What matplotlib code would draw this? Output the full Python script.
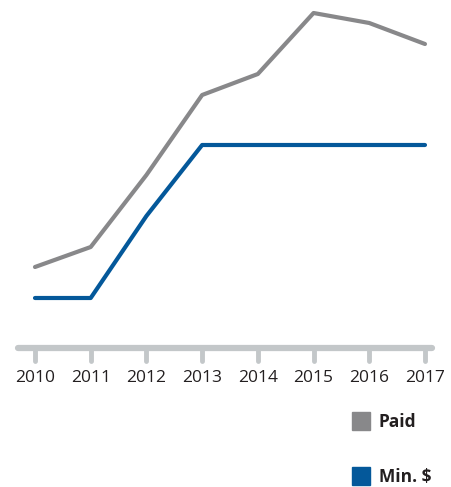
import matplotlib
matplotlib.use("Agg")
import matplotlib.pyplot as plt
from matplotlib.patches import Rectangle

years = [2010, 2011, 2012, 2013, 2014, 2015, 2016, 2017]
paid = [81, 101, 173, 253, 274, 335, 325, 304]
min_wage = [50, 50, 132, 203, 203, 203, 203, 203]
series_names = ["Paid", "Min. $"]

GRAY = "#88888a"
BLUE = "#04589a"
AXIS = "#c3c7c9"

W, H = 451, 487
fig = plt.figure(figsize=(W / 100, H / 100), dpi=100)
ax = fig.add_axes([0, 0, 1, 1])
ax.set_xlim(2009.372, 2017.467)
ax.set_ylim(-139, 348)
ax.axis("off")

# axis baseline and ticks
ax.plot([2009.69, 2017.13], [0, 0], color=AXIS, lw=4.5, solid_capstyle="round", zorder=1)
for y in years:
    ax.plot([y, y], [0, -13], color=AXIS, lw=3.5, solid_capstyle="round", zorder=1)
    ax.text(y, -30, str(y), ha="center", va="center", fontsize=12.5,
            family="Open Sans", color="#231f20")

ax.plot(years, paid, color=GRAY, lw=3, solid_capstyle="round", solid_joinstyle="round", zorder=3)
ax.plot(years, min_wage, color=BLUE, lw=3, solid_capstyle="round", solid_joinstyle="round", zorder=3)

# legend
for i, (name, col) in enumerate(zip(series_names, [GRAY, BLUE])):
    top = 412 + i * 55
    fig.patches.append(Rectangle((352 / W, 1 - (top + 18) / H), 18 / W, 18 / H,
                                 transform=fig.transFigure, color=col, figure=fig))
    fig.text(379 / W, 1 - (top + 10) / H, name, ha="left", va="center",
             fontsize=12.5, fontweight="bold", family="Open Sans", color="#231f20")

fig.savefig("out.png", dpi=100)
